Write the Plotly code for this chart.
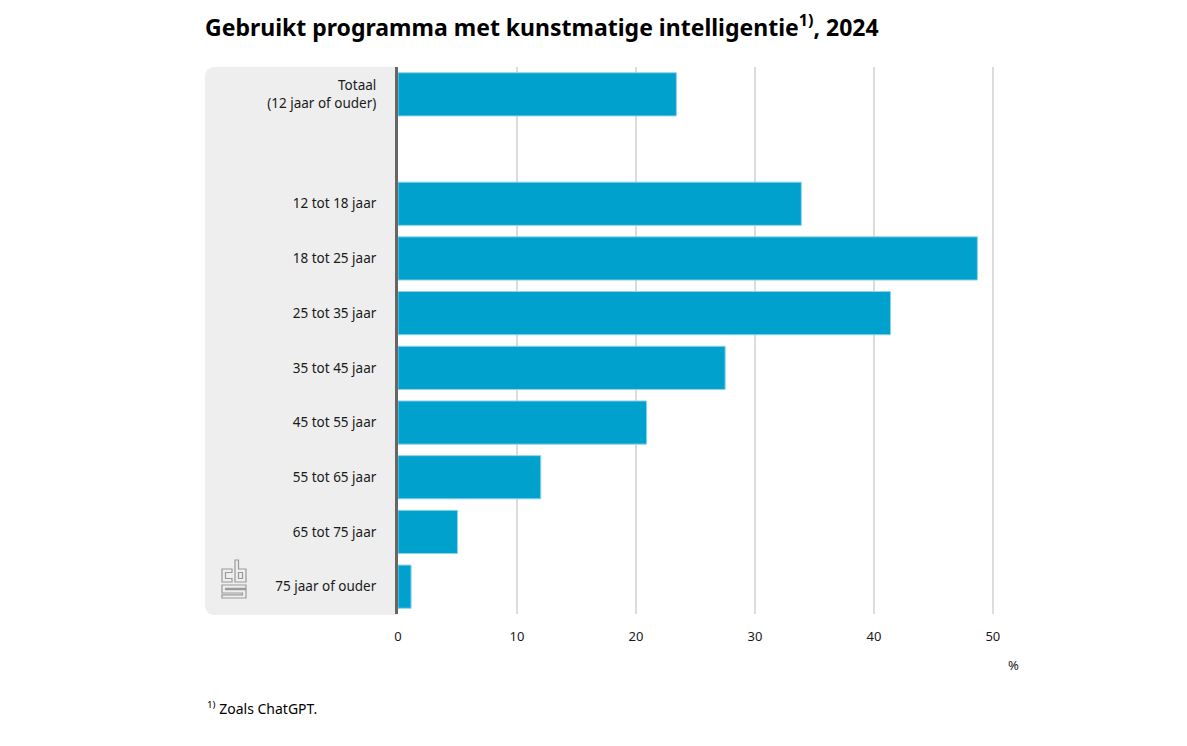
import plotly.graph_objects as go

categories = ["Totaal<br>(12 jaar of ouder)", " ", "12 tot 18 jaar", "18 tot 25 jaar",
              "25 tot 35 jaar", "35 tot 45 jaar", "45 tot 55 jaar", "55 tot 65 jaar",
              "65 tot 75 jaar", "75 jaar of ouder"]
values = [23.4, None, 33.9, 48.7, 41.4, 27.5, 20.9, 12.0, 5.0, 1.1]
x_ticks = [0, 10, 20, 30, 40, 50]

W, H = 1187, 746
L, R, T, B = 398, 1000, 67, 614
PW, PH = R - L, B - T


def px(x):
    return (x - L) / PW


def py(y):
    return (B - y) / PH


FONT = "Noto Sans"

fig = go.Figure()
fig.add_trace(go.Bar(
    x=values, y=categories, orientation="h",
    marker=dict(color="#00A1CD", line=dict(color="#8fd3ea", width=1)),
    width=0.79, hoverinfo="x+y",
))

shapes = []
# grey label panel with rounded left corners
r = 10
x0, x1, y0, y1 = 205, 397, 67, 615
path = (f"M{px(x1)},{py(y0)} L{px(x0 + r)},{py(y0)} Q{px(x0)},{py(y0)} {px(x0)},{py(y0 + r)} "
        f"L{px(x0)},{py(y1 - r)} Q{px(x0)},{py(y1)} {px(x0 + r)},{py(y1)} L{px(x1)},{py(y1)} Z")
shapes.append(dict(type="path", path=path, xref="paper", yref="paper",
                   fillcolor="#EEEEEE", line=dict(width=0), layer="below"))


def pth(points, close=True):
    s = "M" + " L".join(f"{px(a)},{py(b)}" for a, b in points)
    return s + (" Z" if close else "")


logo_col = "#9a9a9a"
logo_paths = [
    # c
    [(232, 569), (222, 569), (222, 582), (232, 582), (232, 578.5), (225.5, 578.5), (225.5, 572.5), (232, 572.5)],
    # b
    [(235, 560), (238.5, 560), (238.5, 569), (246, 569), (246, 582), (235, 582)],
    [(238.5, 572.5), (242.5, 572.5), (242.5, 578.5), (238.5, 578.5)],
    # s
    [(246, 585), (222, 585), (222, 593), (242.5, 593), (242.5, 594.8), (222, 594.8), (222, 598),
     (246, 598), (246, 589.7), (225.5, 589.7), (225.5, 588.3), (246, 588.3)],
]
for p in logo_paths:
    shapes.append(dict(type="path", path=pth(p), xref="paper", yref="paper",
                       fillcolor="rgba(0,0,0,0)", line=dict(color=logo_col, width=1.2),
                       layer="above"))

fig.update_layout(
    width=W, height=H,
    margin=dict(l=L, r=W - R, t=T, b=H - B, pad=0),
    paper_bgcolor="white", plot_bgcolor="white",
    showlegend=False,
    font=dict(family=FONT, size=14, color="#1a1a1a"),
    title=dict(
        text="<b>Gebruikt programma met kunstmatige intelligentie<sup>1)</sup>, 2024</b>",
        x=205 / W, xanchor="left", xref="container",
        y=1 - 28 / H, yanchor="middle", yref="container",
        font=dict(family=FONT, size=23, color="#000000"),
    ),
    xaxis=dict(
        range=[0, 50.6], tickvals=x_ticks, showgrid=True, gridcolor="#DCDCDC", gridwidth=2,
        zeroline=False, showline=False, ticks="outside", ticklen=10, tickcolor="rgba(0,0,0,0)",
        tickfont=dict(size=13, color="#1a1a1a"), fixedrange=True,
    ),
    yaxis=dict(
        categoryorder="array", categoryarray=categories, autorange="reversed",
        showgrid=False, zeroline=False, showline=True, linecolor="#666666", linewidth=3,
        ticks="outside", ticklen=16, tickcolor="rgba(0,0,0,0)",
        tickfont=dict(size=13.5, color="#1a1a1a"), fixedrange=True,
    ),
    shapes=shapes,
    annotations=[
        dict(text="%", x=px(1013), y=py(665), xref="paper", yref="paper",
             showarrow=False, font=dict(size=13, color="#1a1a1a"), xanchor="center", yanchor="middle"),
        dict(text="<sup>1)</sup> Zoals ChatGPT.", x=px(205), y=py(708), xref="paper", yref="paper",
             showarrow=False, font=dict(size=14, color="#000000"), xanchor="left", yanchor="middle"),
    ],
)

fig.write_html("out.html")
